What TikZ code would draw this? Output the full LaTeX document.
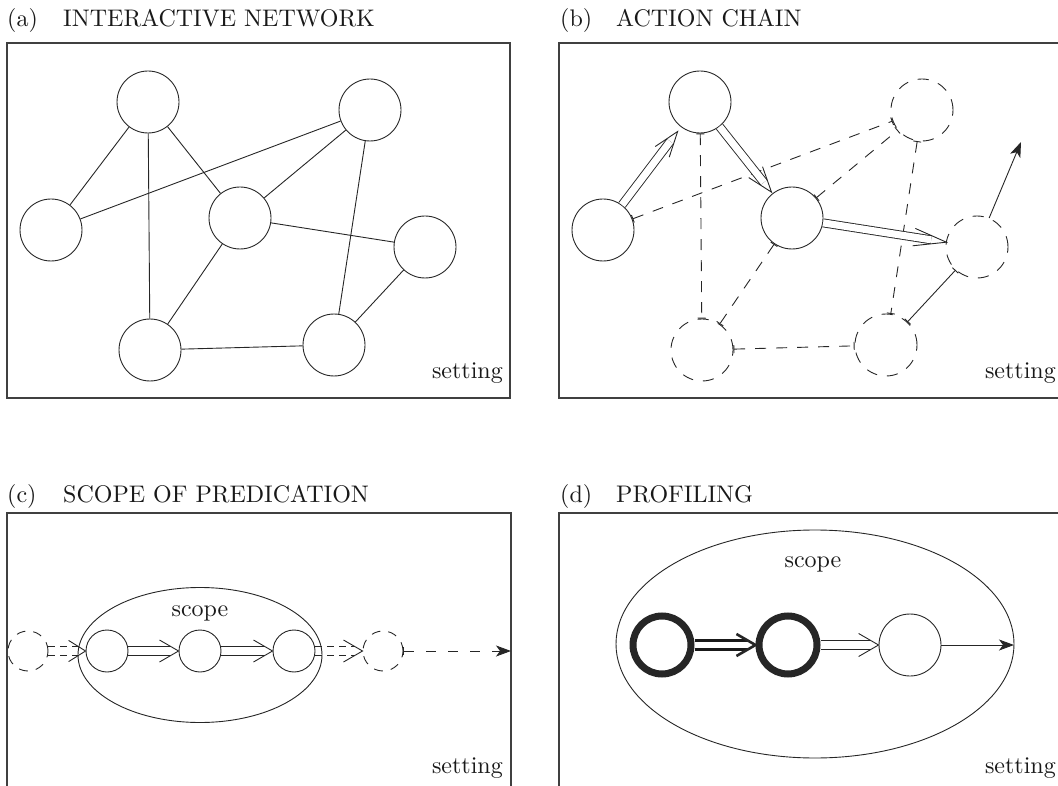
\documentclass[tikz,border=0pt]{standalone}
\usepackage{fontspec}
\setmainfont{lmroman10-regular.otf}
\usetikzlibrary{arrows.meta,shapes.geometric,calc}
\newcommand{\chev}[5][]{\draw[chevron,#1] ($(#2)!#4!#5:(#3)$) -- (#2) -- ($(#2)!#4!-#5:(#3)$);}
\begin{document}
\begin{tikzpicture}[x=1pt,y=-1pt,
  txt/.style={font=\fontsize{24}{28}\selectfont, text=black!90, inner sep=0pt},
  frame/.style={draw=black!75, line width=1.3pt},
  ent/.style={circle, draw=black!85, line width=0.9pt, minimum size=62pt, inner sep=0pt},
  dashpat/.style={dash pattern=on 11pt off 10pt},
  dent/.style={ent, dashpat},
  sment/.style={ent, minimum size=42pt},
  dsment/.style={sment, minimum size=40pt, dash pattern=on 9pt off 8pt},
  thickent/.style={ent, line width=7pt, minimum size=58pt, outer sep=3.5pt},
  link/.style={draw=black!85, line width=0.9pt},
  blink/.style={link, {Bar[width=8pt]}-{Bar[width=8pt]}},
  dlink/.style={blink, dashpat},
  shortdash/.style={dash pattern=on 7pt off 5pt},
  dline/.style={draw=black!85, line width=0.9pt, double=white, double distance=7.1pt},
  dlined/.style={draw=black!90, line width=2.6pt, double=white, double distance=6pt},
  chevron/.style={draw=black!85, line width=0.9pt, line join=miter, miter limit=20},
  sarrow/.style={link, -{Stealth[length=15pt,width=11pt,inset=4pt]}},
  scopeell/.style={ellipse, draw=black!85, line width=0.9pt, inner sep=0pt}
]
\useasboundingbox (0,0) rectangle (1058,786);

% ---------- (a) ----------
\node[txt, anchor=base west] (la) at (7,27) {(a)};
\node[txt, anchor=base west] (ta) at (63,27) {INTERACTIVE NETWORK};
\draw[frame] (7,43) rectangle (510,398);
\node[ent] (aT) at (148,102) {};
\node[ent] (aTR) at (370,110) {};
\node[ent] (aL) at (51,230) {};
\node[ent] (aM) at (240,218) {};
\node[ent] (aR) at (425,247) {};
\node[ent] (aBL) at (150,350) {};
\node[ent] (aBR) at (334,345) {};
\draw[link] (aT) -- (aL);
\draw[link] (aT) -- (aM);
\draw[link] (aT) -- (aBL);
\draw[link] (aL) -- (aTR);
\draw[link] (aTR) -- (aM);
\draw[link] (aTR) -- (aBR);
\draw[link] (aM) -- (aR);
\draw[link] (aM) -- (aBL);
\draw[link] (aR) -- (aBR);
\draw[link] (aBL) -- (aBR);
\node[txt, anchor=base east] (sa) at (503,378) {setting};

% ---------- (b) ----------
\node[txt, anchor=base west] (lb) at (560,27) {(b)};
\node[txt, anchor=base west] (tb) at (616,27) {ACTION CHAIN};
\draw[frame] (1060,43) -- (559,43) -- (559,398) -- (1060,398);
\node[ent] (bT) at (700,102) {};
\node[dent] (bTR) at (922,110) {};
\node[ent] (bL) at (603,230) {};
\node[ent] (bM) at (792,218) {};
\node[dent] (bR) at (977,247) {};
\node[dent] (bBL) at (702,350) {};
\node[dent] (bBR) at (886,345) {};
\coordinate (bUp) at (1021,142);
\draw[dlink] (bL) -- (bTR);
\draw[dlink] (bT) -- (bBL);
\draw[dlink] (bM) -- (bTR);
\draw[dlink] (bM) -- (bBL);
\draw[dlink] (bTR) -- (bBR);
\draw[dlink] (bBL) -- (bBR);
\draw[blink] (bBR) -- (bR);
% double arrows
\coordinate (tb1) at ($(bT)!37pt!(bL)$);
\coordinate (tb2) at ($(bM)!33pt!(bT)$);
\coordinate (tb3) at ($(bR)!31pt!(bM)$);
\draw[dline, shorten >=18pt] (bL) -- (bT);
\chev{tb1}{bL}{27pt}{19}
\draw[dline, shorten >=14pt] (bT) -- (bM);
\chev{tb2}{bT}{27pt}{19}
\draw[dline, shorten >=15pt] (bM) -- (bR);
\chev{tb3}{bM}{34pt}{15}
\draw[sarrow] (bR) -- (bUp);
\node[txt, anchor=base east] (sb) at (1056,378) {setting};

% ---------- (c) ----------
\node[txt, anchor=base west] (lc) at (7,502) {(c)};
\node[txt, anchor=base west] (tc) at (63,502) {SCOPE OF PREDICATION};
\draw[frame] (7,790) -- (7,513) -- (511,513) -- (511,790);
\node[scopeell, minimum width=244pt, minimum height=135pt] (cS) at (200,655) {};
\node[txt, anchor=base] (cst) at (200,616) {scope};
\node[dsment] (cD1) at (28,651) {};
\node[sment] (c1) at (107,651) {};
\node[sment] (c2) at (200,651) {};
\node[sment] (c3) at (294,651) {};
\node[dsment] (cD2) at (383,651) {};
\coordinate (cEnd) at (511,651);
% cD1 -> c1 (dashed double)
\draw[link, shortdash] ([yshift=4.8pt]cD1.east) -- ([yshift=4.8pt, xshift=-8pt]c1.west);
\draw[link, shortdash] ([yshift=-4.8pt]cD1.east) -- ([yshift=-4.8pt, xshift=-8pt]c1.west);
\chev{c1.west}{cD1}{20pt}{32}
% c1 -> c2
\draw[link] ([yshift=4.8pt]c1.east) -- ([yshift=4.8pt, xshift=-8pt]c2.west);
\draw[link] ([yshift=-4.8pt]c1.east) -- ([yshift=-4.8pt, xshift=-8pt]c2.west);
\chev{c2.west}{c1}{22pt}{30}
% c2 -> c3
\draw[link] ([yshift=4.8pt]c2.east) -- ([yshift=4.8pt, xshift=-8pt]c3.west);
\draw[link] ([yshift=-4.8pt]c2.east) -- ([yshift=-4.8pt, xshift=-8pt]c3.west);
\chev{c3.west}{c2}{22pt}{30}
% c3 -> cD2 (dashed double)
\draw[link, shortdash] ([yshift=4.8pt]c3.east) -- ([yshift=4.8pt, xshift=-8pt]cD2.west);
\draw[link, shortdash] ([yshift=-4.8pt]c3.east) -- ([yshift=-4.8pt, xshift=-8pt]cD2.west);
\chev{cD2.west}{c3}{22pt}{30}
\draw[link, dash pattern=on 10pt off 12pt, {Bar[width=8pt]}-{Stealth[length=15pt,width=11pt,inset=4pt]}] (cD2) -- (cEnd);
\node[txt, anchor=base east] (sc) at (503,773) {setting};

% ---------- (d) ----------
\node[txt, anchor=base west] (ld) at (560,502) {(d)};
\node[txt, anchor=base west] (td) at (616,502) {PROFILING};
\draw[frame] (559,790) -- (559,513) -- (1060,513);
\node[scopeell, minimum width=398pt, minimum height=228pt] (dS) at (815,644) {};
\node[txt, anchor=base] (dst) at (813,567) {scope};
\node[thickent] (d1) at (662,645) {};
\node[thickent] (d2) at (788,645) {};
\node[ent] (d3) at (910,645) {};
\coordinate (dEnd) at (1014,645);
\coordinate (td1) at ($(d2)!32.5pt!(d1)$);
\draw[dlined, shorten >=8pt] (d1) -- (d2);
\chev[line width=2.6pt]{td1}{d1}{22pt}{30}
\draw[link] ([yshift=4.8pt]d2.east) -- ([yshift=4.8pt, xshift=-8pt]d3.west);
\draw[link] ([yshift=-4.8pt]d2.east) -- ([yshift=-4.8pt, xshift=-8pt]d3.west);
\chev{d3.west}{d2}{23pt}{30}
\draw[sarrow] (d3) -- (dEnd);
\node[txt, anchor=base east] (sd) at (1056,773) {setting};
\end{tikzpicture}
\end{document}
